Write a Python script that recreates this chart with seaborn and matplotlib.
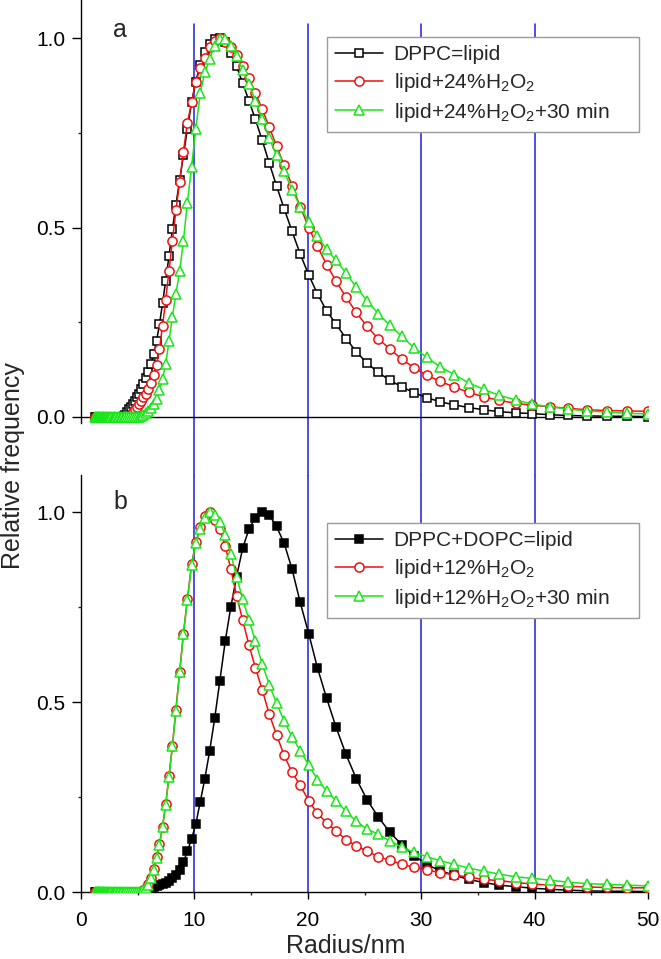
import matplotlib
matplotlib.use("Agg")
import matplotlib.pyplot as plt
import seaborn as sns
from matplotlib.ticker import MultipleLocator

# radius grid (nm)
radius = [1.25, 1.30, 1.35, 1.40, 1.46, 1.51, 1.57, 1.63, 1.69, 1.76,
          1.83, 1.90, 1.97, 2.05, 2.13, 2.21, 2.30, 2.39, 2.48, 2.57,
          2.67, 2.78, 2.89, 3.00, 3.11, 3.23, 3.36, 3.49, 3.63, 3.77,
          3.91, 4.06, 4.22, 4.38, 4.55, 4.73, 4.92, 5.11, 5.30, 5.51,
          5.72, 5.94, 6.18, 6.41, 6.66, 6.92, 7.19, 7.47, 7.76, 8.06,
          8.37, 8.70, 9.03, 9.38, 9.75, 10.12, 10.52, 10.92, 11.35, 11.79,
          12.24, 12.72, 13.21, 13.72, 14.26, 14.81, 15.38, 15.98, 16.60, 17.24,
          17.91, 18.61, 19.33, 20.08, 20.85, 21.66, 22.50, 23.37, 24.28, 25.22,
          26.20, 27.21, 28.27, 29.37, 30.50, 31.69, 32.91, 34.19, 35.52, 36.89,
          38.32, 39.81, 41.35, 42.95, 44.62, 46.35, 48.14, 50.00]

# panel a
a_dppc = [0, 0, 0, 0, 0, 0, 0, 0, 0, 0,
          0, 0, 0, 0, 0, 0, 0, 0, 0, 0,
          0, 0, 0, 0, 0, 0, 0, 0.001, 0.001, 0.002,
          0.004, 0.012, 0.020, 0.027, 0.035, 0.043, 0.052, 0.062, 0.073, 0.087,
          0.102, 0.120, 0.140, 0.165, 0.200, 0.245, 0.300, 0.360, 0.425, 0.495,
          0.560, 0.625, 0.690, 0.760, 0.830, 0.885, 0.930, 0.962, 0.985, 0.997,
          1.000, 0.990, 0.960, 0.925, 0.880, 0.835, 0.785, 0.730, 0.670, 0.610,
          0.550, 0.490, 0.430, 0.375, 0.325, 0.280, 0.245, 0.207, 0.172, 0.142,
          0.118, 0.097, 0.080, 0.064, 0.051, 0.040, 0.032, 0.025, 0.019, 0.014,
          0.011, 0.009, 0.006, 0.004, 0.003, 0.002, 0.002, 0.001]
a_h2o2 = [0, 0, 0, 0, 0, 0, 0, 0, 0, 0,
          0, 0, 0, 0, 0, 0, 0, 0, 0, 0,
          0, 0, 0, 0, 0, 0, 0, 0, 0, 0,
          0, 0, 0.001, 0.005, 0.012, 0.020, 0.027, 0.035, 0.043, 0.052,
          0.062, 0.075, 0.090, 0.110, 0.137, 0.180, 0.240, 0.310, 0.385, 0.465,
          0.545, 0.620, 0.700, 0.775, 0.830, 0.885, 0.920, 0.946, 0.975, 0.993,
          1.000, 0.990, 0.975, 0.955, 0.927, 0.895, 0.855, 0.812, 0.765, 0.715,
          0.665, 0.610, 0.555, 0.500, 0.450, 0.402, 0.358, 0.316, 0.276, 0.239,
          0.207, 0.180, 0.153, 0.130, 0.110, 0.094, 0.079, 0.065, 0.053, 0.044,
          0.036, 0.031, 0.027, 0.023, 0.019, 0.017, 0.016, 0.015]
a_30min = [0, 0, 0, 0, 0, 0, 0, 0, 0, 0,
           0, 0, 0, 0, 0, 0, 0, 0, 0, 0,
           0, 0, 0, 0, 0, 0, 0, 0, 0, 0,
           0, 0, 0, 0, 0, 0, 0, 0, 0.002, 0.005,
           0.010, 0.017, 0.025, 0.035, 0.048, 0.070, 0.100, 0.140, 0.200, 0.265,
           0.325, 0.385, 0.465, 0.565, 0.660, 0.760, 0.855, 0.910, 0.945, 0.980,
           0.997, 0.997, 0.980, 0.952, 0.915, 0.878, 0.835, 0.785, 0.735, 0.690,
           0.648, 0.600, 0.555, 0.515, 0.478, 0.442, 0.413, 0.380, 0.342, 0.307,
           0.273, 0.243, 0.213, 0.183, 0.157, 0.132, 0.112, 0.090, 0.073, 0.057,
           0.045, 0.034, 0.027, 0.021, 0.016, 0.013, 0.010, 0.008]

# panel b
b_lipid = [0, 0, 0, 0, 0, 0, 0, 0, 0, 0,
           0, 0, 0, 0, 0, 0, 0, 0, 0, 0,
           0, 0, 0, 0, 0, 0, 0, 0, 0, 0,
           0, 0, 0, 0, 0, 0, 0, 0, 0, 0.001,
           0.003, 0.006, 0.009, 0.012, 0.015, 0.018, 0.021, 0.025, 0.030, 0.037,
           0.046, 0.058, 0.078, 0.107, 0.140, 0.178, 0.238, 0.298, 0.372, 0.457,
           0.555, 0.660, 0.750, 0.830, 0.905, 0.955, 0.985, 1.000, 0.992, 0.962,
           0.918, 0.850, 0.762, 0.680, 0.590, 0.510, 0.433, 0.362, 0.298, 0.243,
           0.198, 0.158, 0.125, 0.096, 0.072, 0.056, 0.044, 0.033, 0.025, 0.018,
           0.014, 0.010, 0.007, 0.005, 0.003, 0.002, 0.002, 0.001]
b_h2o2 = [0, 0, 0, 0, 0, 0, 0, 0, 0, 0,
          0, 0, 0, 0, 0, 0, 0, 0, 0, 0,
          0, 0, 0, 0, 0, 0, 0, 0, 0, 0,
          0, 0, 0, 0, 0, 0, 0, 0, 0.001, 0.004,
          0.010, 0.020, 0.038, 0.060, 0.093, 0.127, 0.172, 0.232, 0.305, 0.385,
          0.480, 0.580, 0.680, 0.770, 0.862, 0.920, 0.960, 0.990, 1.000, 0.978,
          0.955, 0.910, 0.850, 0.780, 0.715, 0.650, 0.590, 0.532, 0.468, 0.414,
          0.360, 0.315, 0.281, 0.240, 0.207, 0.182, 0.160, 0.138, 0.121, 0.108,
          0.093, 0.084, 0.073, 0.065, 0.058, 0.051, 0.045, 0.039, 0.033, 0.030,
          0.025, 0.021, 0.018, 0.015, 0.013, 0.012, 0.011, 0.011]
b_30min = [0, 0, 0, 0, 0, 0, 0, 0, 0, 0,
           0, 0, 0, 0, 0, 0, 0, 0, 0, 0,
           0, 0, 0, 0, 0, 0, 0, 0, 0, 0,
           0, 0, 0, 0, 0, 0, 0, 0, 0.001, 0.004,
           0.010, 0.019, 0.036, 0.058, 0.090, 0.125, 0.170, 0.230, 0.303, 0.383,
           0.477, 0.578, 0.678, 0.768, 0.860, 0.918, 0.955, 0.985, 1.000, 0.993,
           0.975, 0.940, 0.890, 0.830, 0.770, 0.717, 0.660, 0.600, 0.546, 0.497,
           0.450, 0.408, 0.372, 0.334, 0.296, 0.265, 0.240, 0.212, 0.186, 0.166,
           0.152, 0.135, 0.118, 0.104, 0.093, 0.082, 0.073, 0.063, 0.055, 0.047,
           0.040, 0.036, 0.031, 0.026, 0.022, 0.020, 0.018, 0.016]

labels_a = ["DPPC=lipid", "lipid+24%H$_2$O$_2$", "lipid+24%H$_2$O$_2$+30 min"]
labels_b = ["DPPC+DOPC=lipid", "lipid+12%H$_2$O$_2$", "lipid+12%H$_2$O$_2$+30 min"]
guide_x = [10, 20, 30, 40]

sns.set_theme(style="ticks")
plt.rcParams["font.family"] = ["Liberation Sans", "DejaVu Sans"]
plt.rcParams["mathtext.fontset"] = "custom"
plt.rcParams["mathtext.rm"] = "Liberation Sans"
plt.rcParams["mathtext.it"] = "Liberation Sans:italic"
plt.rcParams["mathtext.default"] = "regular"
plt.rcParams["axes.linewidth"] = 1.0

BLUE = "#1c1ce0"
GREEN = "#19e619"
RED = "#f01010"

fig = plt.figure(figsize=(6.61, 9.59), dpi=100)
ax_a = fig.add_axes([81 / 661, 1 - 423 / 959, 567 / 661, 423 / 959])
ax_b = fig.add_axes([81 / 661, 1 - 892 / 959, 567 / 661, 417 / 959])


def draw_series(ax, values, labels, first_filled):
    sq_face = "black" if first_filled else "white"
    sns.lineplot(x=radius, y=values[0], ax=ax, color="black", linewidth=1.1,
                 marker="s", markersize=5.8, markerfacecolor=sq_face,
                 markeredgecolor="black", markeredgewidth=1.1,
                 label=labels[0], errorbar=None, zorder=3)
    sns.lineplot(x=radius, y=values[1], ax=ax, color=RED, linewidth=1.1,
                 marker="o", markersize=6.6, markerfacecolor="white",
                 markeredgecolor=RED, markeredgewidth=1.1,
                 label=labels[1], errorbar=None, zorder=4)
    sns.lineplot(x=radius, y=values[2], ax=ax, color=GREEN, linewidth=1.1,
                 marker="^", markersize=7.0, markerfacecolor="white",
                 markeredgecolor=GREEN, markeredgewidth=1.1,
                 label=labels[2], errorbar=None, zorder=5)


draw_series(ax_a, [a_dppc, a_h2o2, a_30min], labels_a, False)
draw_series(ax_b, [b_lipid, b_h2o2, b_30min], labels_b, True)

for ax in (ax_a, ax_b):
    ax.set_facecolor("none")
    ax.set_xlim(0, 50)
    ax.set_xlabel("")
    ax.set_ylabel("")
    ax.yaxis.set_major_locator(MultipleLocator(0.5))
    ax.yaxis.set_minor_locator(MultipleLocator(0.25))
    ax.yaxis.set_major_formatter(matplotlib.ticker.FormatStrFormatter("%.1f"))
    ax.tick_params(axis="y", which="major", length=6.7, width=1.0, pad=4.5,
                   labelsize=15, colors="black")
    ax.tick_params(axis="y", which="minor", length=2.4, width=1.0)
    for s in ("top", "right"):
        ax.spines[s].set_visible(False)
    ax.spines["left"].set_color("black")
    ax.spines["bottom"].set_color("black")

# panel a: no x axis, baseline line at zero, guides running through the gap
ax_a.set_ylim(-6 / 379, 417 / 379)
ax_a.spines["bottom"].set_visible(False)
ax_a.tick_params(axis="x", which="both", bottom=False, labelbottom=False)
ax_a.axhline(0, color="black", linewidth=1.0, zorder=1.5)
for gx in guide_x:
    ax_a.axvline(gx, ymin=-52 / 423, ymax=399 / 423, color=BLUE,
                 linewidth=1.1, clip_on=False, zorder=1)

# panel b
ax_b.set_ylim(0, 417 / 380)
ax_b.xaxis.set_major_locator(MultipleLocator(10))
ax_b.xaxis.set_minor_locator(MultipleLocator(5))
ax_b.tick_params(axis="x", which="major", length=4.7, width=1.0, pad=9,
                 labelsize=15, colors="black")
ax_b.tick_params(axis="x", which="minor", length=2.4, width=1.0)
for gx in guide_x:
    ax_b.axvline(gx, color=BLUE, linewidth=1.1, zorder=1)

# legends
leg_kw = dict(loc="upper left", mode="expand", frameon=True, fancybox=False,
              edgecolor="#9a9a9a", framealpha=1, fontsize=15,
              handlelength=2.3, handletextpad=0.5, labelspacing=0.32,
              borderpad=0.4, borderaxespad=0)
leg_a = ax_a.legend(bbox_to_anchor=(0.434, 0.688, 0.550, 0.2245), **leg_kw)
leg_b = ax_b.legend(bbox_to_anchor=(0.434, 0.655, 0.550, 0.230), **leg_kw)
for leg in (leg_a, leg_b):
    leg.get_frame().set_linewidth(1.0)

# panel letters and shared labels
fig.text(113 / 661, 1 - 37 / 959, "a", fontsize=18, va="baseline", ha="left")
fig.text(113 / 661, 1 - 509 / 959, "b", fontsize=18, va="baseline", ha="left")
fig.text(13 / 661, 1 - 466 / 959, "Relative frequency", fontsize=18,
         rotation=90, va="center", ha="center")
fig.text(346 / 661, 1 / 959, "Radius/nm", fontsize=18, va="bottom",
         ha="center")

fig.savefig("out.png", dpi=100)
